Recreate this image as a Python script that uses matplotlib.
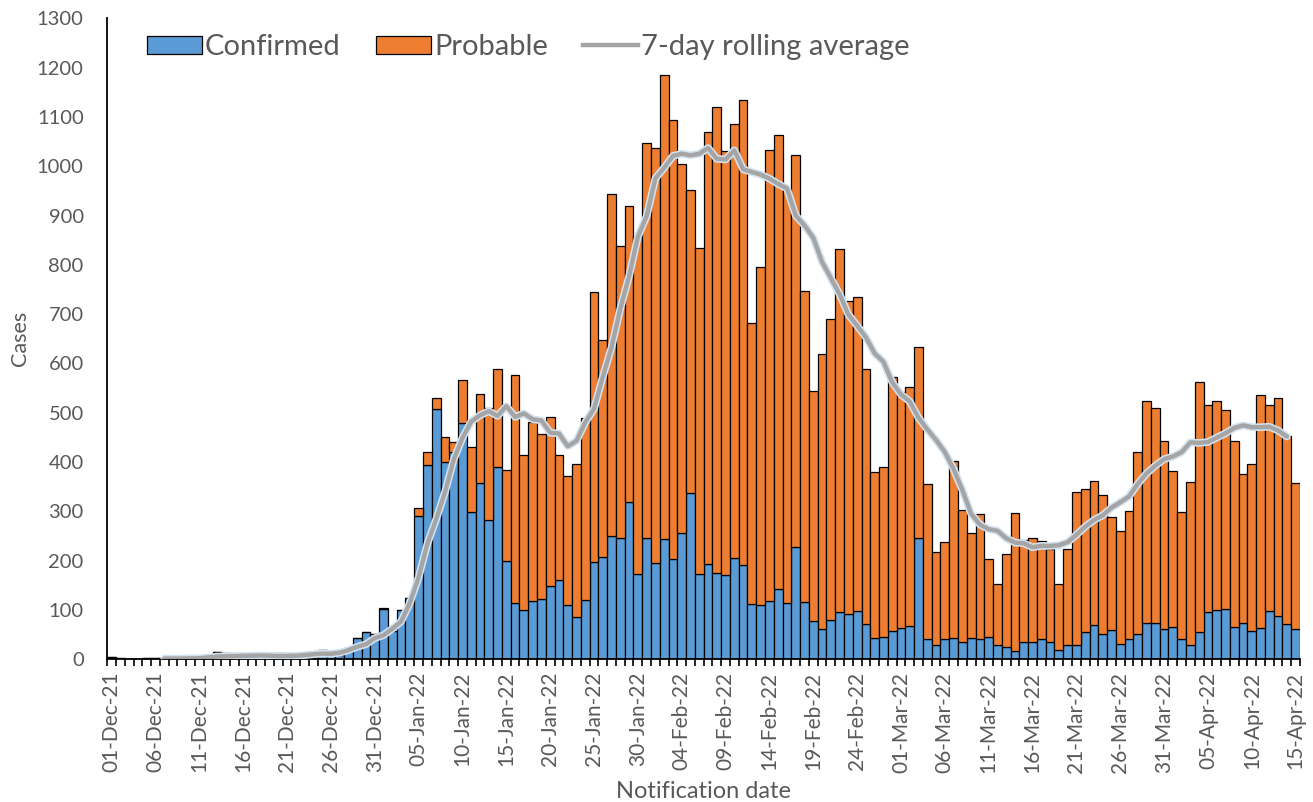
import numpy as np
import pandas as pd
import matplotlib
matplotlib.use("Agg")
import matplotlib.pyplot as plt
import matplotlib.patheffects as pe
from matplotlib.patches import Patch
from matplotlib.lines import Line2D

plt.rcParams['font.family'] = ['Lato', 'DejaVu Sans']

start_date = '2021-12-01'
end_date = '2022-04-15'

confirmed = [4, 3, 1, 0, 2, 2, 1, 1, 2, 2,
             3, 3, 15, 13, 5, 5, 5, 5, 6, 12,
             7, 7, 8, 14, 18, 15, 9, 22, 44, 55,
             51, 102, 58, 100, 124, 291, 395, 507, 401, 420,
             480, 298, 357, 283, 391, 199, 115, 100, 118, 122,
             149, 160, 110, 85, 121, 197, 208, 251, 245, 320,
             174, 245, 195, 243, 204, 257, 338, 173, 193, 176,
             170, 205, 191, 112, 110, 118, 143, 115, 228, 116,
             78, 61, 79, 95, 91, 97, 72, 43, 46, 58,
             64, 68, 246, 42, 30, 41, 43, 36, 44, 41,
             45, 30, 24, 17, 36, 36, 41, 36, 19, 30,
             30, 55, 70, 51, 59, 32, 41, 52, 73, 73,
             62, 65, 41, 30, 56, 95, 100, 101, 66, 73,
             57, 64, 98, 88, 72, 61]

probable = [0, 0, 0, 0, 0, 0, 0, 0, 0, 0,
            0, 0, 0, 0, 0, 0, 0, 0, 0, 0,
            0, 0, 0, 0, 0, 0, 0, 0, 0, 0,
            0, 2, 0, 0, 0, 16, 25, 22, 49, 20,
            86, 133, 182, 226, 197, 184, 462, 314, 363, 334,
            342, 255, 261, 312, 368, 548, 440, 692, 593, 599,
            684, 803, 842, 942, 890, 747, 614, 662, 876, 944,
            861, 880, 943, 571, 686, 914, 920, 840, 795, 631,
            466, 558, 612, 738, 635, 638, 516, 337, 343, 515,
            479, 485, 388, 314, 187, 196, 359, 266, 212, 254,
            158, 123, 189, 279, 205, 209, 198, 187, 133, 193,
            309, 290, 292, 282, 230, 229, 259, 369, 451, 437,
            381, 317, 258, 330, 506, 421, 423, 404, 377, 302,
            340, 473, 417, 442, 380, 296]

series_labels = ['Confirmed', 'Probable', '7-day rolling average']
y_ticks = list(range(0, 1301, 100))

dates = pd.date_range(start_date, end_date, freq='D')
x = np.arange(len(dates))
conf = np.array(confirmed)
prob = np.array(probable)
total = pd.Series(conf + prob)
# 7-day average of totals as drawn in the source (window ending the following day)
rolling = total.rolling(7).mean().shift(-1)
rolling.iloc[:6] = np.nan

blue = '#5B9BD5'
orange = '#ED7D31'
grey = '#A5A5A5'
txt = '#595959'

fig = plt.figure(figsize=(13.13, 8.02), dpi=100)
ax = fig.add_axes([107.3 / 1313, 1 - 659.3 / 802, (1300 - 107.3) / 1313, (659.3 - 18.3) / 802])

ax.bar(x, conf, width=1.0, color=blue, edgecolor='black', linewidth=0.9, zorder=2)
ax.bar(x, prob, bottom=conf, width=1.0, color=orange, edgecolor='black', linewidth=0.9, zorder=2)
ax.plot(x, rolling, color=grey, lw=3.2, solid_capstyle='round', zorder=3,
        path_effects=[pe.Stroke(linewidth=5.5, foreground='#d3e2f1'), pe.Normal()])

ax.set_xlim(-0.5, len(x) - 0.5)
ax.set_ylim(0, 1300)
ax.set_yticks(y_ticks)
ax.set_yticklabels([str(v) for v in y_ticks])
ax.tick_params(axis='y', length=0, labelsize=14.5, labelcolor=txt, pad=17)

ax.set_xticks(x[::5])
ax.set_xticklabels([d.strftime('%d-%b-%y') for d in dates[::5]], rotation=90)
ax.set_xticks(np.arange(-0.5, len(x), 1.0), minor=True)
ax.tick_params(axis='x', which='major', length=0, labelsize=15, labelcolor=txt, pad=9)
ax.tick_params(axis='x', which='minor', length=5, width=1.2, color='black')

for s in ['top', 'right']:
    ax.spines[s].set_visible(False)
for s in ['left', 'bottom']:
    ax.spines[s].set_color('black')
    ax.spines[s].set_linewidth(1.3)

ax.set_ylabel('Cases', fontsize=15.5, color=txt, labelpad=5)
ax.set_xlabel('Notification date', fontsize=17, color=txt, labelpad=6)

handles = [Patch(facecolor=blue, edgecolor='black', linewidth=0.9),
           Patch(facecolor=orange, edgecolor='black', linewidth=0.9),
           Line2D([0], [0], color=grey, lw=3.2)]
leg = ax.legend(handles, series_labels, loc='upper left', bbox_to_anchor=(0.011, 1.016),
                ncol=3, frameon=False, fontsize=21, handlelength=1.9, handleheight=0.62,
                handletextpad=0.1, columnspacing=1.2)
for t in leg.get_texts():
    t.set_color(txt)

fig.savefig('out.png', dpi=100)
